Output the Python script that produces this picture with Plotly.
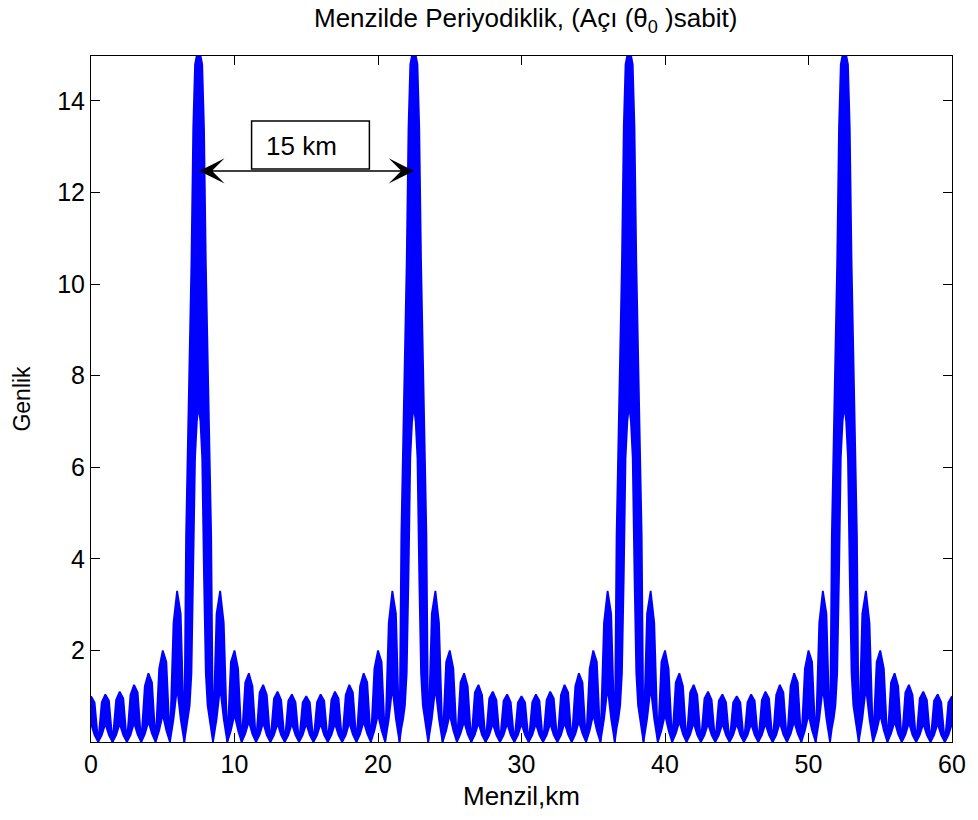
import plotly.graph_objects as go

# distance from a main-lobe peak (km); the pattern is symmetric about each peak
offset_km = [0.0, 0.125, 0.25, 0.375, 0.5, 0.625, 0.75, 0.875, 1.0,
             1.25, 1.5, 1.75, 2.0, 2.25, 2.5, 2.75, 3.0, 3.25, 3.5, 3.75,
             4.0, 4.25, 4.5, 4.75, 5.0, 5.25, 5.5, 5.75, 6.0, 6.25, 6.5, 6.75, 7.0, 7.25, 7.5]
# upper envelope of the amplitude (Genlik)
upper_amp = [15.0, 15.0, 14.8, 13.4, 10.5, 8.2, 6.5, 4.5, 0.0,
             2.8, 3.3, 2.6, 0.0, 1.75, 2.0, 1.6, 0.0, 1.3, 1.5, 1.22,
             0.0, 1.08, 1.25, 1.03, 0.0, 0.95, 1.1, 0.92, 0.0, 0.9, 1.04, 0.87, 0.0, 0.86, 1.0]
# lower envelope of the fast oscillation inside each lobe
lower_amp = [7.35, 7.0, 6.2, 3.6, 1.5, 0.8, 0.5, 0.3, 0.0,
             0.5, 1.2, 0.5, 0.0, 0.25, 0.6, 0.25, 0.0, 0.18, 0.45, 0.17,
             0.0, 0.16, 0.42, 0.15, 0.0, 0.15, 0.4, 0.15, 0.0, 0.15, 0.4, 0.15, 0.0, 0.15, 0.4]
main_peak_km = [7.5, 22.5, 37.5, 52.5]
x_ticks = [0, 10, 20, 30, 40, 50, 60]
y_ticks = [2, 4, 6, 8, 10, 12, 14]

pts = {}
for c in main_peak_km:
    for sgn in (-1, 1):
        for d, u, l in zip(offset_km, upper_amp, lower_amp):
            x = round(c + sgn * d, 4)
            if 0 <= x <= 60:
                pts[x] = (u, l)
xs = sorted(pts)
up = [pts[x][0] for x in xs]
lo = [pts[x][1] for x in xs]

BLUE = "#0000FF"
fig = go.Figure()
fig.add_trace(go.Scatter(x=xs, y=lo, mode="lines", line=dict(color=BLUE, width=1.8),
                         hoverinfo="skip", showlegend=False))
fig.add_trace(go.Scatter(x=xs, y=up, mode="lines", line=dict(color=BLUE, width=1.8),
                         fill="tonexty", fillcolor=BLUE, showlegend=False))

FONT = "Liberation Sans, Arial, sans-serif"
fig.update_layout(
    width=978, height=820,
    margin=dict(l=91, r=18, t=56, b=78),
    paper_bgcolor="white", plot_bgcolor="white",
    showlegend=False,
    font=dict(family=FONT, size=22, color="black"),
    title=dict(text="Menzilde Periyodiklik, (Açı (θ<sub>0</sub> )sabit)",
               x=0.5375, xanchor="center", y=0.978, yanchor="middle",
               font=dict(family=FONT, size=26, color="black")),
)
fig.update_xaxes(range=[0, 60], tickvals=x_ticks, ticks="inside", ticklen=9, tickcolor="black",
                 showline=True, linecolor="black", linewidth=1, mirror="ticks",
                 showgrid=False, zeroline=False, tickfont=dict(size=25),
                 title=dict(text="Menzil,km", standoff=9, font=dict(family=FONT, size=26)))
fig.update_yaxes(range=[0, 14.98], tickvals=y_ticks, ticks="inside", ticklen=9, tickcolor="black",
                 showline=True, linecolor="black", linewidth=1, mirror="ticks",
                 showgrid=False, zeroline=False, tickfont=dict(size=25),
                 title=dict(text="Genlik", standoff=20, font=dict(family=FONT, size=23)))

# 15 km annotation box and double arrow
fig.add_shape(type="rect", xref="x", yref="y", x0=11.19, x1=19.4, y0=12.51, y1=13.56,
              line=dict(color="black", width=1.5), fillcolor="white")
fig.add_annotation(x=14.65, y=13.02, xref="x", yref="y", text="15 km", showarrow=False,
                   font=dict(family=FONT, size=26, color="black"))
fig.add_annotation(x=22.5, y=12.47, ax=7.45, ay=12.47, xref="x", yref="y", axref="x", ayref="y",
                   text="", showarrow=True, arrowhead=3, startarrowhead=3, arrowside="end+start",
                   arrowsize=3.0, startarrowsize=3.0, arrowwidth=1.4, arrowcolor="black")

fig.write_html("out.html")
